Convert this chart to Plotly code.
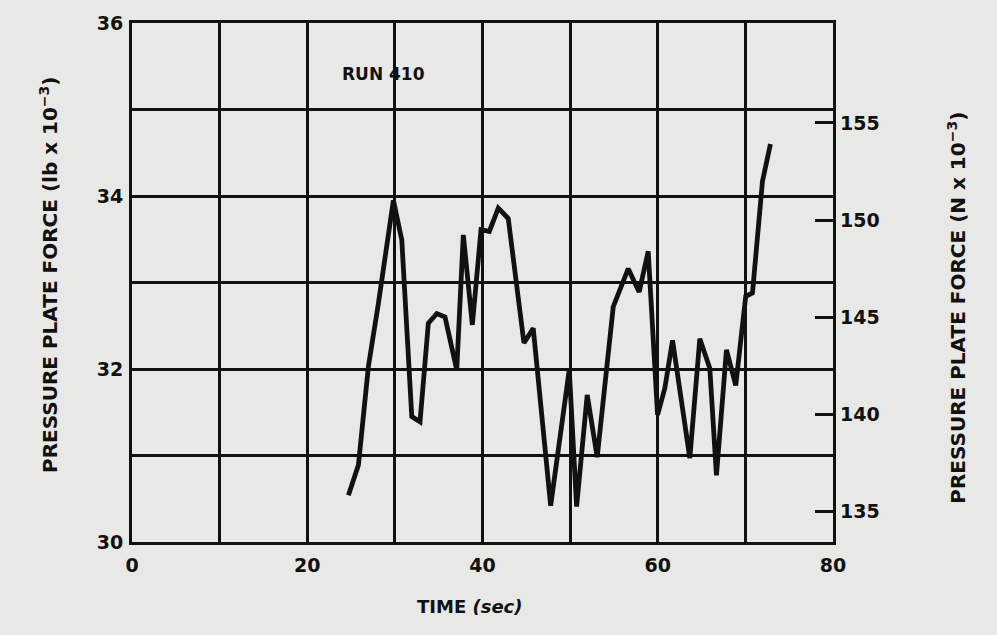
import plotly.graph_objects as go

# Data
time_s = [24.70, 25.84, 26.98, 28.12, 29.83, 30.79, 31.93, 32.87, 33.82, 34.78,
          35.72, 37.06, 37.81, 38.84, 39.83, 40.78, 41.80, 42.94, 44.73, 45.79,
          47.78, 49.90, 50.74, 51.95, 53.09, 54.92, 56.63, 57.88, 58.91, 59.98,
          60.81, 61.69, 63.66, 64.80, 65.94, 66.70, 67.84, 68.90, 70.04, 70.81,
          71.95, 72.86]
force_klb = [30.54, 30.89, 32.03, 32.76, 33.95, 33.49, 31.45, 31.39, 32.53, 32.64,
             32.60, 31.99, 33.55, 32.51, 33.61, 33.59, 33.86, 33.74, 32.30, 32.47,
             30.42, 31.99, 30.41, 31.70, 30.98, 32.72, 33.16, 32.89, 33.36, 31.47,
             31.78, 32.33, 30.97, 32.35, 32.01, 30.77, 32.22, 31.81, 32.84, 32.88,
             34.17, 34.60]

x_ticks = [0, 20, 40, 60, 80]
y_left_ticks = [30, 32, 34, 36]
y_right_ticks = [135, 140, 145, 150, 155]
LB_TO_N = 4.448222
y_range = [30, 36]
x_range = [0, 80]

FONT = "DejaVu Sans"
INK = "#111111"
PAPER = "#e8e8e6"

fig = go.Figure()
fig.add_trace(go.Scatter(x=time_s, y=force_klb, mode="lines",
                         line=dict(color=INK, width=4.8), hoverinfo="skip",
                         showlegend=False))
# same series in newtons on the right axis (transparent, keeps the axis alive)
fig.add_trace(go.Scatter(x=time_s, y=[v * LB_TO_N for v in force_klb], mode="lines",
                         line=dict(color="rgba(0,0,0,0)", width=1), yaxis="y2",
                         hoverinfo="skip", showlegend=False))

tickfont = dict(family=FONT, size=19, weight="bold", color=INK)

fig.update_layout(
    width=997, height=635,
    margin=dict(l=132, r=164, t=23, b=93),
    paper_bgcolor=PAPER, plot_bgcolor=PAPER,
    font=dict(family=FONT, color=INK, size=19, weight="bold"),
    xaxis=dict(range=x_range, tickmode="array", tickvals=x_ticks,
               showgrid=True, gridcolor=INK, gridwidth=2.5,
               minor=dict(dtick=10, tick0=0, showgrid=True, gridcolor=INK,
                          gridwidth=2.5, ticks=""),
               showline=True, linecolor=INK, linewidth=3, mirror=True,
               ticks="", zeroline=False, ticklabelstandoff=4,
               tickfont=tickfont),
    yaxis=dict(range=y_range, tickmode="array", tickvals=y_left_ticks,
               showgrid=True, gridcolor=INK, gridwidth=2.5,
               minor=dict(dtick=1, tick0=30, showgrid=True, gridcolor=INK,
                          gridwidth=2.5, ticks=""),
               showline=True, linecolor=INK, linewidth=3,
               mirror=True, ticks="", zeroline=False, ticklabelstandoff=2,
               tickfont=tickfont),
    yaxis2=dict(range=[y_range[0] * LB_TO_N, y_range[1] * LB_TO_N],
                tickmode="array", tickvals=y_right_ticks,
                overlaying="y", side="right",
                showgrid=False, ticks="inside", ticklen=18, tickwidth=3,
                tickcolor=INK, showline=False, zeroline=False,
                ticklabelstandoff=6, tickfont=tickfont),
)

fig.add_annotation(x=28.65, y=35.41, xref="x", yref="y", text="RUN 410",
                   showarrow=False,
                   font=dict(family=FONT, size=17, weight="bold", color=INK))
fig.add_annotation(x=-0.1398, y=0.5145, xref="paper", yref="paper",
                   text="PRESSURE PLATE FORCE (lb x 10<sup>−3</sup>)",
                   textangle=-90, showarrow=False,
                   font=dict(family=FONT, size=20, weight="bold", color=INK))
fig.add_annotation(x=1.198, y=0.451, xref="paper", yref="paper",
                   text="PRESSURE PLATE FORCE (N x 10<sup>−3</sup>)",
                   textangle=-90, showarrow=False,
                   font=dict(family=FONT, size=20, weight="bold", color=INK))
fig.add_annotation(x=0.482, y=-0.148, xref="paper", yref="paper",
                   text="TIME <i>(sec)</i>", showarrow=False,
                   font=dict(family=FONT, size=18, weight="bold", color=INK))

fig.write_html("out.html", config={"displayModeBar": False},
               post_script="document.body.style.margin='0';")
